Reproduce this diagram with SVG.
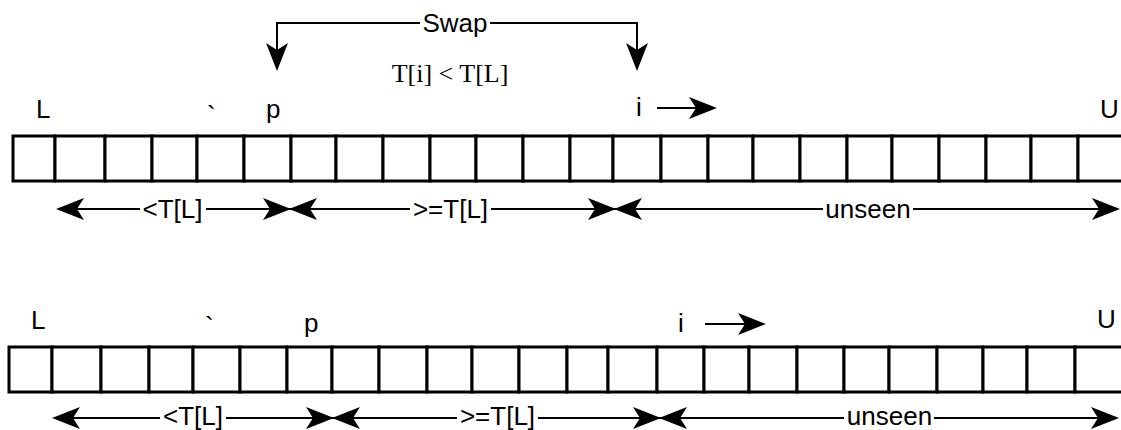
<svg xmlns="http://www.w3.org/2000/svg" xmlns:xlink="http://www.w3.org/1999/xlink" width="1121" height="430" viewBox="0 0 1121 430">
  <style>
    .cell { fill: #fff; stroke: #000; stroke-width: 3; }
    .lbl { font-family: "Liberation Sans", Arial, sans-serif; font-size: 26px; fill: #000; }
    .cond { font-family: "Liberation Serif", "Times New Roman", serif; font-size: 26px; fill: #000; }
    .wire { fill: none; stroke: #000; stroke-width: 2; }
    .gap { fill: #fff; }
  </style>
  <defs>
    <!-- concave dart arrowhead, tip at the origin, pointing along +x -->
    <path id="dart" d="M1,0 L-27,-11 L-20,0 L-27,11 Z" fill="#000"/>
  </defs>

  <rect width="1121" height="430" fill="#fff"/>

  <!-- array before the swap -->
  <g id="array-top">
    <rect class="cell" x="13" y="136" width="42" height="45"/>
    <rect class="cell" x="55" y="136" width="50" height="45"/>
    <rect class="cell" x="105" y="136" width="47" height="45"/>
    <rect class="cell" x="152" y="136" width="45" height="45"/>
    <rect class="cell" x="197" y="136" width="47" height="45"/>
    <rect class="cell" x="244" y="136" width="47" height="45"/>
    <rect class="cell" x="291" y="136" width="45" height="45"/>
    <rect class="cell" x="336" y="136" width="47" height="45"/>
    <rect class="cell" x="383" y="136" width="47" height="45"/>
    <rect class="cell" x="430" y="136" width="46" height="45"/>
    <rect class="cell" x="476" y="136" width="47" height="45"/>
    <rect class="cell" x="523" y="136" width="47" height="45"/>
    <rect class="cell" x="570" y="136" width="43" height="45"/>
    <rect class="cell" x="613" y="136" width="48" height="45"/>
    <rect class="cell" x="661" y="136" width="47" height="45"/>
    <rect class="cell" x="708" y="136" width="45" height="45"/>
    <rect class="cell" x="753" y="136" width="47" height="45"/>
    <rect class="cell" x="800" y="136" width="47" height="45"/>
    <rect class="cell" x="847" y="136" width="45" height="45"/>
    <rect class="cell" x="892" y="136" width="47" height="45"/>
    <rect class="cell" x="939" y="136" width="47" height="45"/>
    <rect class="cell" x="986" y="136" width="45" height="45"/>
    <rect class="cell" x="1031" y="136" width="47" height="45"/>
    <rect class="cell" x="1078" y="136" width="50" height="45"/>
  </g>

  <!-- array after the swap -->
  <g id="array-bottom">
    <rect class="cell" x="9" y="347" width="43" height="45"/>
    <rect class="cell" x="52" y="347" width="49" height="45"/>
    <rect class="cell" x="101" y="347" width="48" height="45"/>
    <rect class="cell" x="149" y="347" width="44" height="45"/>
    <rect class="cell" x="193" y="347" width="47" height="45"/>
    <rect class="cell" x="240" y="347" width="47" height="45"/>
    <rect class="cell" x="287" y="347" width="45" height="45"/>
    <rect class="cell" x="332" y="347" width="47" height="45"/>
    <rect class="cell" x="379" y="347" width="48" height="45"/>
    <rect class="cell" x="427" y="347" width="45" height="45"/>
    <rect class="cell" x="472" y="347" width="47" height="45"/>
    <rect class="cell" x="519" y="347" width="48" height="45"/>
    <rect class="cell" x="567" y="347" width="41" height="45"/>
    <rect class="cell" x="608" y="347" width="49" height="45"/>
    <rect class="cell" x="657" y="347" width="47" height="45"/>
    <rect class="cell" x="704" y="347" width="45" height="45"/>
    <rect class="cell" x="749" y="347" width="48" height="45"/>
    <rect class="cell" x="797" y="347" width="47" height="45"/>
    <rect class="cell" x="844" y="347" width="45" height="45"/>
    <rect class="cell" x="889" y="347" width="48" height="45"/>
    <rect class="cell" x="937" y="347" width="46" height="45"/>
    <rect class="cell" x="983" y="347" width="44" height="45"/>
    <rect class="cell" x="1027" y="347" width="48" height="45"/>
    <rect class="cell" x="1075" y="347" width="53" height="45"/>
  </g>

  <!-- index markers, top array -->
  <g id="marks-top">
    <text class="lbl" x="36" y="118">L</text>
    <text class="lbl" x="207" y="124">`</text>
    <text class="lbl" x="266" y="118">p</text>
    <text class="lbl" x="636" y="116">i</text>
    <text class="lbl" x="1100" y="118">U</text>
  </g>

  <!-- index markers, bottom array -->
  <g id="marks-bottom">
    <text class="lbl" x="31" y="329">L</text>
    <text class="lbl" x="205" y="335">`</text>
    <text class="lbl" x="304" y="332">p</text>
    <text class="lbl" x="678" y="332">i</text>
    <text class="lbl" x="1097" y="328">U</text>
  </g>

  <g id="condition">
    <text class="cond" x="450" y="82" text-anchor="middle">T[i] &lt; T[L]</text>
  </g>

  <g id="connectors">
    <!-- swap between p and i -->
    <path class="wire" d="M277,60 V23 H637 V60"/>
    <use xlink:href="#dart" href="#dart" transform="translate(277,70) rotate(90)"/>
    <use xlink:href="#dart" href="#dart" transform="translate(637,70) rotate(90)"/>
    <rect class="gap" x="420" y="10" width="70" height="28"/>
    <text class="lbl" x="455" y="32" text-anchor="middle">Swap</text>

    <!-- scan direction -->
    <path class="wire" d="M657,108 H698"/>
    <use xlink:href="#dart" href="#dart" transform="translate(716,108)"/>
    <path class="wire" d="M705,324 H747"/>
    <use xlink:href="#dart" href="#dart" transform="translate(765,324)"/>

    <!-- partitions, top array -->
    <path class="wire" d="M67,209 H1108"/>
    <use xlink:href="#dart" href="#dart" transform="translate(57,209) rotate(180)"/>
    <use xlink:href="#dart" href="#dart" transform="translate(290,209)"/>
    <use xlink:href="#dart" href="#dart" transform="translate(290,209) rotate(180)"/>
    <use xlink:href="#dart" href="#dart" transform="translate(615,209)"/>
    <use xlink:href="#dart" href="#dart" transform="translate(615,209) rotate(180)"/>
    <use xlink:href="#dart" href="#dart" transform="translate(1119,209)"/>
    <rect class="gap" x="140" y="196" width="66" height="26"/>
    <rect class="gap" x="410" y="196" width="81" height="26"/>
    <rect class="gap" x="823" y="196" width="90" height="26"/>
    <text class="lbl" x="172.5" y="218" text-anchor="middle">&lt;T[L]</text>
    <text class="lbl" x="450.5" y="218" text-anchor="middle">&gt;=T[L]</text>
    <text class="lbl" x="868" y="218" text-anchor="middle">unseen</text>

    <!-- partitions, bottom array -->
    <path class="wire" d="M63,418 H1107"/>
    <use xlink:href="#dart" href="#dart" transform="translate(53,418) rotate(180)"/>
    <use xlink:href="#dart" href="#dart" transform="translate(333,418)"/>
    <use xlink:href="#dart" href="#dart" transform="translate(333,418) rotate(180)"/>
    <use xlink:href="#dart" href="#dart" transform="translate(660,418)"/>
    <use xlink:href="#dart" href="#dart" transform="translate(660,418) rotate(180)"/>
    <use xlink:href="#dart" href="#dart" transform="translate(1118,418)"/>
    <rect class="gap" x="160" y="405" width="66" height="25"/>
    <rect class="gap" x="457" y="405" width="81" height="25"/>
    <rect class="gap" x="844" y="405" width="90" height="25"/>
    <text class="lbl" x="193" y="424.5" text-anchor="middle">&lt;T[L]</text>
    <text class="lbl" x="497.5" y="424.5" text-anchor="middle">&gt;=T[L]</text>
    <text class="lbl" x="889.5" y="424.5" text-anchor="middle">unseen</text>
  </g>
</svg>
